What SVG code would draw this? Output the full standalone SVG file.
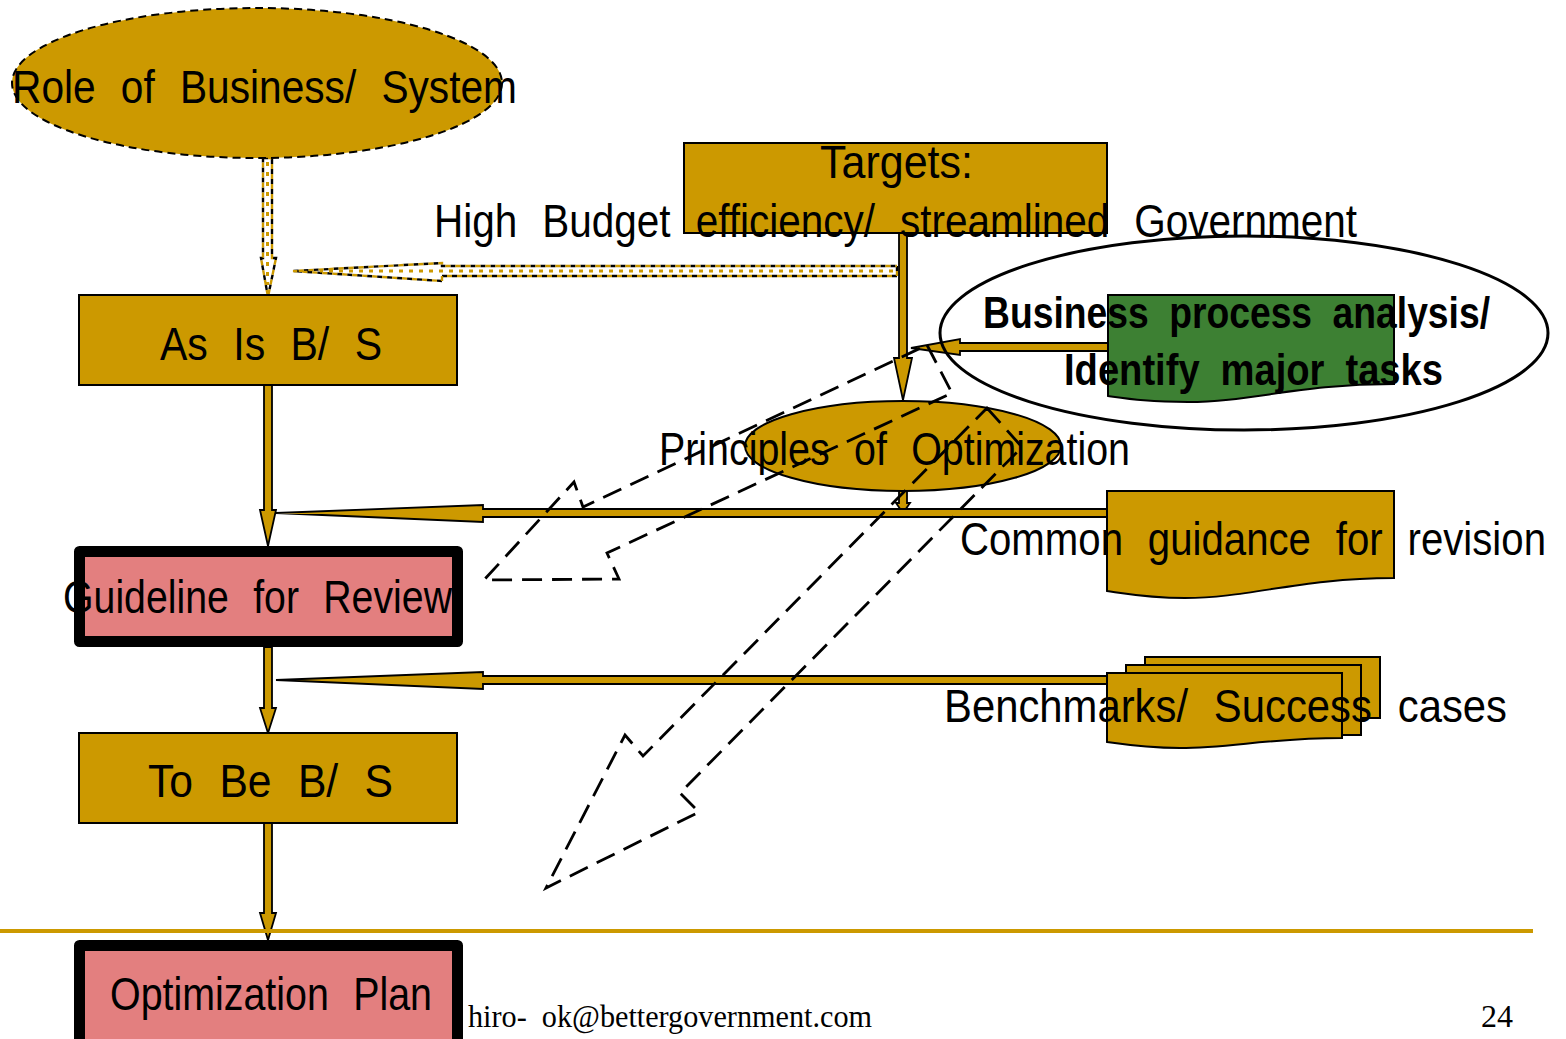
<svg xmlns="http://www.w3.org/2000/svg" width="1566" height="1039" viewBox="0 0 1566 1039">
  <style>
    .lbl { font-family: "Liberation Sans Narrow", "Liberation Sans", Arial, sans-serif; font-size: 47px; fill: #000; word-spacing: 16px; }
    .bold { font-weight: bold; font-size: 44px; word-spacing: 12px; }
    .foot { font-family: "Liberation Serif", "Times New Roman", serif; font-size: 32px; fill: #000; word-spacing: 8px; }
    .gold { fill: #CC9900; stroke: #000; stroke-width: 2; }
    .pink { fill: #E37F7F; stroke: #000; stroke-width: 11; stroke-linejoin: round; }
    .green { fill: #3D8033; stroke: #000; stroke-width: 2; }
    .arrow { fill: #CC9900; stroke: #000; stroke-width: 1.8; stroke-linejoin: miter; }
    .hollow { fill: none; stroke: #000; stroke-width: 2.8; stroke-dasharray: 20 10; }
    .dotA { fill: none; stroke: #000; stroke-width: 2.4; stroke-dasharray: 5 5; }
    .dotB { fill: none; stroke: #CC9900; stroke-width: 2.4; stroke-dasharray: 5 5; stroke-dashoffset: 5; }
    .dotC { fill: none; stroke: #CC9900; stroke-width: 3; stroke-dasharray: 4 6; }
  </style>

  <rect width="1566" height="1039" fill="#fff"/>

  <!-- solid and dotted flow arrows -->
  <g id="connectors">
    <!-- Role of Business/System -> As Is (dotted) -->
    <polygon class="dotA" points="263,158 272,158 272,258 276,258 268,297 261,258 263,258"/>
    <polygon class="dotB" points="263,158 272,158 272,258 276,258 268,297 261,258 263,258"/>
    <line class="dotC" x1="267.5" y1="162" x2="267.5" y2="285"/>
    <!-- Targets -> As Is (dotted) -->
    <polygon class="dotA" points="897,266 897,276 442,276 442,281 293,271 442,263 442,266"/>
    <polygon class="dotB" points="897,266 897,276 442,276 442,281 293,271 442,263 442,266"/>
    <line class="dotC" x1="893" y1="271" x2="320" y2="271"/>

    <!-- main vertical chain -->
    <polygon class="arrow" points="264,385 272,385 272,510 276,510 268,546 260,510 264,510"/>
    <polygon class="arrow" points="264,647 272,647 272,708 276,708 268,733 260,708 264,708"/>
    <polygon class="arrow" points="264,823 272,823 272,913 276,913 268,940 260,913 264,913"/>

    <!-- Targets -> Principles -->
    <polygon class="arrow" points="899,233 907,233 907,358 912,358 903,400 894,358 899,358"/>
    <!-- Principles -> guidance line -->
    <polygon class="arrow" points="899,491 907,491 907,503 910,503 903,513 896,503 899,503"/>

    <!-- Common guidance -> Guideline for Review -->
    <polygon class="arrow" points="1107,509 1107,517 483,517 483,522 276,513 483,505 483,509"/>
    <!-- Benchmarks -> To Be -->
    <polygon class="arrow" points="1107,676 1107,684 483,684 483,689 276,680 483,672 483,676"/>
    <!-- Business process analysis -> Principles -->
    <polygon class="arrow" points="1108,343 1108,351 960,351 960,355 911,348 960,339 960,343"/>
  </g>

  <g id="role">
    <ellipse cx="257" cy="83" rx="245" ry="75" fill="#CC9900" stroke="#000" stroke-width="2" stroke-dasharray="8 5"/>
    <text class="lbl" x="12" y="103" font-size="49" textLength="505" lengthAdjust="spacingAndGlyphs">Role of Business/ System</text>
  </g>

  <g id="targets">
    <rect class="gold" x="684" y="143" width="423" height="90"/>
    <text class="lbl" x="820" y="178" textLength="153" lengthAdjust="spacingAndGlyphs">Targets:</text>
    <text class="lbl" x="434" y="237" textLength="923" lengthAdjust="spacingAndGlyphs">High Budget efficiency/ streamlined Government</text>
  </g>

  <g id="as-is">
    <rect class="gold" x="79" y="295" width="378" height="90"/>
    <text class="lbl" x="160" y="360" textLength="222" lengthAdjust="spacingAndGlyphs">As Is B/ S</text>
  </g>

  <g id="analysis">
    <ellipse cx="1244" cy="333" rx="304" ry="97" fill="none" stroke="#000" stroke-width="3"/>
    <path class="green" d="M1108,295 H1394 V384 C1300,384 1250,402 1188,402 C1150,402 1130,399 1108,396 Z"/>
    <text class="lbl bold" x="983" y="328" textLength="507" lengthAdjust="spacingAndGlyphs">Business process analysis/</text>
    <text class="lbl bold" x="1064" y="385" textLength="379" lengthAdjust="spacingAndGlyphs">Identify major tasks</text>
  </g>

  <g id="principles">
    <ellipse cx="903" cy="446" rx="158" ry="45" fill="#CC9900" stroke="#000" stroke-width="2"/>
    <text class="lbl" x="659" y="465" textLength="471" lengthAdjust="spacingAndGlyphs">Principles of Optimization</text>
  </g>

  <g id="common-guidance">
    <path class="gold" d="M1107,491 H1394 V578 C1300,578 1250,598 1185,598 C1150,598 1128,594 1107,591 Z"/>
    <text class="lbl" x="960" y="555" font-size="48" textLength="586" lengthAdjust="spacingAndGlyphs">Common guidance for revision</text>
  </g>

  <g id="guideline">
    <rect class="pink" x="79.5" y="551.5" width="378" height="90"/>
    <text class="lbl" x="63" y="613" textLength="389" lengthAdjust="spacingAndGlyphs">Guideline for Review</text>
  </g>

  <g id="benchmarks">
    <rect class="gold" x="1145" y="657" width="235" height="61"/>
    <rect class="gold" x="1126" y="665" width="235" height="70"/>
    <path class="gold" d="M1107,673 H1342 V738 C1270,738 1230,748 1180,748 C1150,748 1128,745 1107,742 Z"/>
    <text class="lbl" x="944" y="722" textLength="563" lengthAdjust="spacingAndGlyphs">Benchmarks/ Success cases</text>
  </g>

  <g id="to-be">
    <rect class="gold" x="79" y="733" width="378" height="90"/>
    <text class="lbl" x="148" y="797" textLength="245" lengthAdjust="spacingAndGlyphs">To Be B/ S</text>
  </g>

  <g id="plan">
    <rect class="pink" x="79.5" y="945.5" width="378" height="100"/>
    <text class="lbl" x="110" y="1010" textLength="322" lengthAdjust="spacingAndGlyphs">Optimization Plan</text>
  </g>

  <!-- hollow dashed block arrows fanning out from the analysis -->
  <g id="feedback-arrows">
    <polygon class="hollow" points="927,345 952,393 607,553 619,579 484,580 574,482 583,507"/>
    <polygon class="hollow" points="987,408 1022,447 680,793 699,812 546,888 625,735 643,756"/>
  </g>

  <!-- footer -->
  <g id="footer">
    <rect x="0" y="929" width="1533" height="4" fill="#CC9900"/>
    <text class="foot" x="468" y="1027" textLength="404" lengthAdjust="spacingAndGlyphs">hiro- ok@bettergovernment.com</text>
    <text class="foot" x="1481" y="1027" textLength="32" lengthAdjust="spacingAndGlyphs">24</text>
  </g>
</svg>
